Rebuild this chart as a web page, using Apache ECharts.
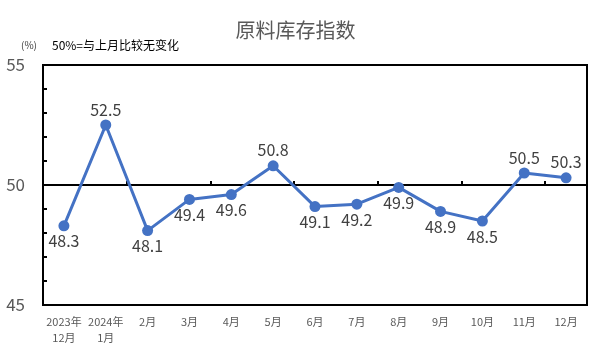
<!DOCTYPE html>
<html>
<head>
<meta charset="utf-8">
<script src="https://cdn.jsdelivr.net/npm/echarts@6/dist/echarts.min.js"></script>
<style>
html, body { margin: 0; padding: 0; background: #fff; }
#main { width: 591px; height: 354px; }
</style>
</head>
<body>
<div id="main"></div>
<script type="text/javascript">
// 原料库存指数 (%)
var months = ['2023年\n12月', '2024年\n1月', '2月', '3月', '4月', '5月', '6月', '7月', '8月', '9月', '10月', '11月', '12月'];
var values = [48.3, 52.5, 48.1, 49.4, 49.6, 50.8, 49.1, 49.2, 49.9, 48.9, 48.5, 50.5, 50.3];
var labelPos = ['bottom', 'top', 'bottom', 'bottom', 'bottom', 'top', 'bottom', 'bottom', 'bottom', 'bottom', 'bottom', 'top', 'top'];
var yTicks = [45, 50, 55];

var font = '"Noto Sans CJK SC", sans-serif';
var myChart = echarts.init(document.getElementById('main'));

var points = values.map(function (v, i) {
    return { value: v, label: { position: labelPos[i] } };
});

var option = {
    animation: false,
    title: {
        text: '原料库存指数',
        left: 'center',
        top: 15,
        textStyle: { fontFamily: font, fontSize: 20, fontWeight: 'normal', color: '#595959' }
    },
    graphic: [
        { type: 'text', left: 21, top: 40, style: { text: '(%)', fontFamily: font, fontSize: 10, fill: '#404040' } },
        { type: 'text', left: 52, top: 39, style: { text: '50%=与上月比较无变化', fontFamily: font, fontSize: 12, fill: '#000' } }
    ],
    grid: {
        left: 43, right: 4, top: 65, bottom: 49,
        show: true, borderColor: '#000', borderWidth: 2
    },
    xAxis: [
        {
            type: 'category',
            data: months,
            boundaryGap: true,
            axisLine: { lineStyle: { color: '#000', width: 2 } },
            axisTick: { show: false },
            axisLabel: { interval: 0, margin: 9, fontFamily: font, fontSize: 11, color: '#595959', lineHeight: 16 }
        },
        {
            type: 'category',
            data: months,
            position: 'bottom',
            offset: -120,
            boundaryGap: true,
            axisLine: { lineStyle: { color: '#000', width: 2 } },
            axisTick: { show: true, inside: true, length: 4, lineStyle: { color: '#000', width: 2 } },
            axisLabel: { show: false }
        }
    ],
    yAxis: {
        type: 'value',
        min: 45, max: 55, interval: 1,
        axisLine: { show: true, lineStyle: { color: '#000', width: 2 } },
        axisTick: { show: true, inside: true, length: 4, lineStyle: { color: '#000', width: 2 } },
        splitLine: { show: false },
        axisLabel: {
            margin: 18, fontFamily: font, fontSize: 17, color: '#595959',
            formatter: function (v) { return yTicks.indexOf(v) >= 0 ? String(v) : ''; }
        }
    },
    series: [{
        type: 'line',
        data: points,
        symbol: 'circle',
        symbolSize: 11,
        lineStyle: { color: '#4472C4', width: 3 },
        itemStyle: { color: '#4472C4' },
        label: { show: true, fontFamily: font, fontSize: 16, color: '#404040', distance: 2 }
    }]
};
myChart.setOption(option);
</script>
</body>
</html>
